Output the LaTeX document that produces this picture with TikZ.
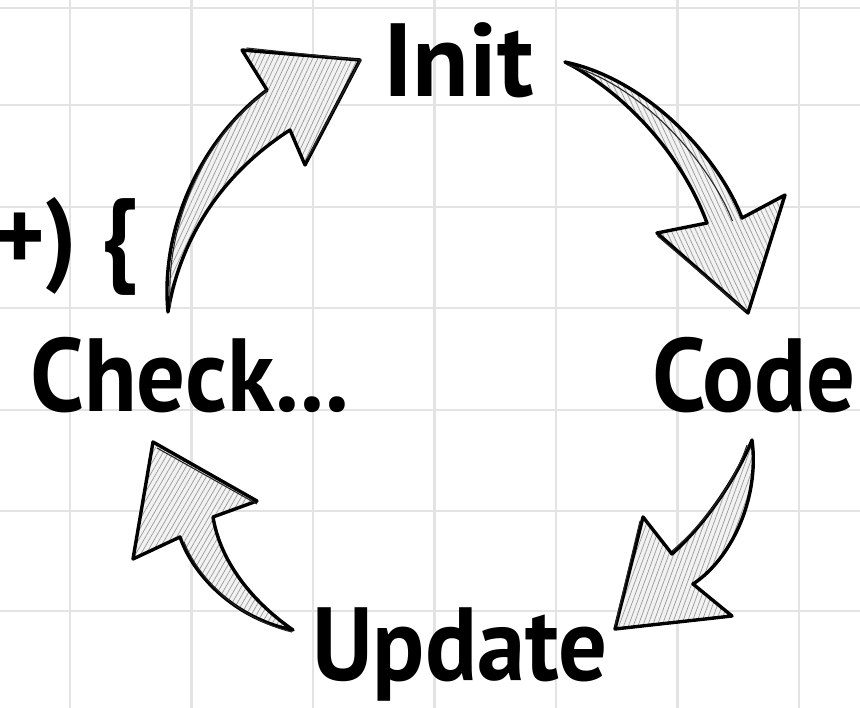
\documentclass[tikz,border=0pt]{standalone}
\usepackage{fontspec}
\setmainfont{PT Sans}
\usetikzlibrary{patterns.meta}

\newcommand{\squeezetext}[1]{\scalebox{0.93}[1]{#1}}

\tikzset{
  lbl/.style={font=\bfseries\fontsize{104}{104}\selectfont, inner sep=0pt, anchor=base west},
  fatarrow/.style={draw=black, line width=3.4pt, line join=round,
    preaction={fill=gray!10}, pattern={Lines[angle=#1, distance=4.5pt, line width=0.7pt]},
    pattern color=gray!80},
  sketchline/.style={draw=black!85, line width=1.1pt, line join=round},
  gridline/.style={draw=gray!22, line width=2.4pt}
}

\begin{document}
\begin{tikzpicture}[x=1pt,y=-1pt]
	\useasboundingbox[fill=white] (0,0) rectangle (860,708);
	
	\foreach \x in {70,191.5,313,434.5,556,677.5,799} {
		\draw[gridline] (\x,0) -- (\x,708);
	}
	\foreach \y in {8,105,207,308,410,511,611} {
		\draw[gridline] (0,\y) -- (860,\y);
	}
	
	\node[lbl] (init) at (383,97) {Init};
	\node[lbl] (code) at (652,412) {\squeezetext{Code}};
	\node[lbl] (update) at (312,680) {\squeezetext{Update}};
	\node[lbl] (check) at (30,412) {\squeezetext{Check...}};
	\node[lbl, anchor=base east] (loophead) at (138,272) {\squeezetext{+) \{}};
	
	% check -> init
	\draw[fatarrow=65] (168,312) .. controls (160,230) and (200,140) .. (267,90)
		-- (242,50) -- (360,60) -- (305,165) -- (290,130)
		.. controls (220,175) and (180,240) .. (168,312) -- cycle;
	\draw[sketchline, shift={(2.5,-2)}] (168,308) .. controls (162,230) and (200,140) .. (265,92)
		(244,50) -- (358,62) -- (305,160);
	% init -> code
	\draw[fatarrow=115] (565,62) .. controls (650,80) and (720,160) .. (742,218)
		-- (785,195) -- (748,313) -- (657,233) -- (707,223)
		.. controls (680,150) and (620,90) .. (565,62) -- cycle;
	\draw[sketchline, shift={(-2.5,3)}] (570,62) .. controls (645,82) and (712,160) .. (735,218)
		(660,233) -- (748,308);
	% code -> update
	\draw[fatarrow=70] (752,440) .. controls (760,500) and (730,560) .. (693,584)
		-- (732,616) -- (615,629) -- (643,517) -- (672,554)
		.. controls (710,520) and (740,470) .. (752,440) -- cycle;
	\draw[sketchline, shift={(-3,1)}] (750,444) .. controls (738,480) and (710,520) .. (675,550)
		(643,520) -- (618,625);
	% update -> check
	\draw[fatarrow=60] (293,630) .. controls (250,600) and (220,560) .. (213,517)
		-- (257,501) -- (153,442) -- (133,559) -- (180,537)
		.. controls (195,580) and (240,620) .. (293,630) -- cycle;
	\draw[sketchline, shift={(2,2)}] (290,630) .. controls (240,618) and (198,580) .. (182,540)
		(155,446) -- (255,502);
\end{tikzpicture}
\end{document}
